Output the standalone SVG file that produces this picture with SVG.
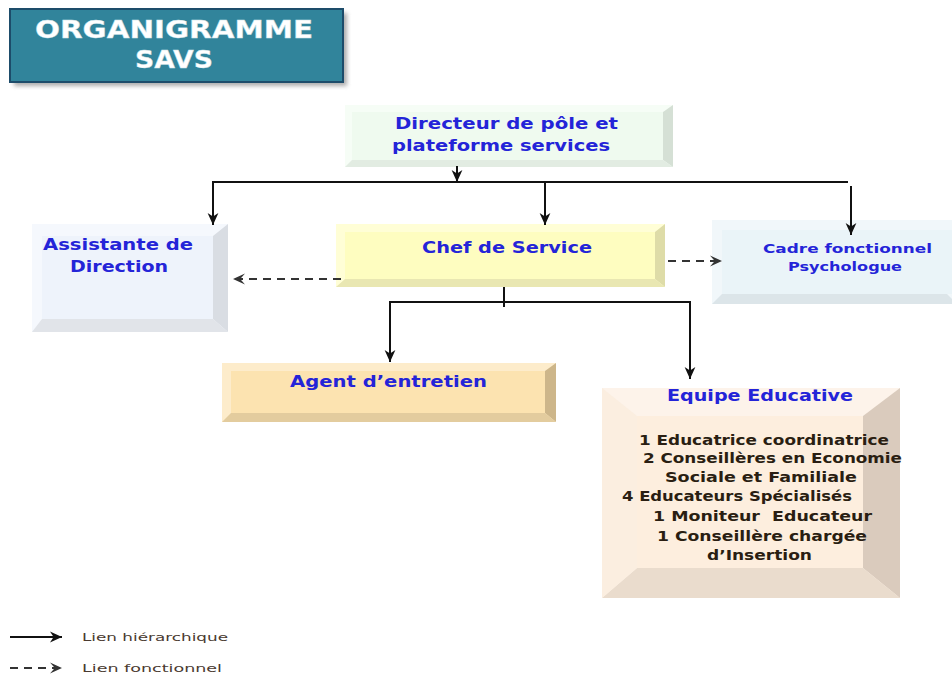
<svg xmlns="http://www.w3.org/2000/svg" width="952" height="675" viewBox="0 0 952 675">
<style>
.b{font-family:"DejaVu Sans","Verdana",sans-serif;font-weight:bold;font-size:16px;fill:#2424d8;text-anchor:middle}
.s{font-size:13px}
.e{font-family:"DejaVu Sans","Verdana",sans-serif;font-weight:bold;font-size:13.5px;fill:#2a1e12;text-anchor:middle}
.t{font-family:"DejaVu Sans","Verdana",sans-serif;font-weight:bold;font-size:24px;fill:#ffffff;text-anchor:middle;stroke:#cfe3ea;stroke-width:0.4}
.l{font-family:"DejaVu Sans","Verdana",sans-serif;font-size:10px;fill:#4a3a30}
.solid{fill:none;stroke:#111;stroke-width:2}
.dash{fill:none;stroke:#333;stroke-width:1.8;stroke-dasharray:8 6}
</style>
<defs>
<marker id="ah" viewBox="0 0 10 10" refX="10" refY="5" markerWidth="12" markerHeight="12" markerUnits="userSpaceOnUse" orient="auto">
<path d="M0,0.5 L10,5 L0,9.5 L3,5 z" fill="#111"/>
</marker>
<marker id="ad" viewBox="0 0 10 10" refX="10" refY="5" markerWidth="12" markerHeight="12" markerUnits="userSpaceOnUse" orient="auto">
<path d="M0,0.5 L10,5 L0,9.5 L4,5 z" fill="#333"/>
</marker>
<filter id="sh" x="-10%" y="-20%" width="130%" height="150%">
<feGaussianBlur stdDeviation="2"/>
</filter>
</defs>
<rect width="952" height="675" fill="#ffffff"/>

<g id="title">
<rect x="14" y="13" width="333" height="73" fill="#777" opacity="0.6" filter="url(#sh)"/>
<rect x="10" y="9" width="333" height="73" fill="#31849b" stroke="#1d4c6a" stroke-width="2"/>
<text class="t" x="174" y="38" textLength="278" lengthAdjust="spacingAndGlyphs">ORGANIGRAMME</text>
<text class="t" x="174" y="68" textLength="78" lengthAdjust="spacingAndGlyphs">SAVS</text>
</g>

<g id="directeur">
<rect x="345" y="105" width="328" height="62" fill="#f6fdf6"/>
<polygon points="673,105 673,167 663,160 663,112" fill="#d5e0d5"/>
<polygon points="345,167 673,167 663,160 352,160" fill="#e2ece2"/>
<rect x="352" y="112" width="311" height="48" fill="#effaef"/>
<text class="b" x="506.5" y="129" textLength="223" lengthAdjust="spacingAndGlyphs">Directeur de pôle et</text>
<text class="b" x="501" y="151" textLength="218" lengthAdjust="spacingAndGlyphs">plateforme services</text>
</g>

<g id="assistante">
<rect x="32" y="224" width="196" height="108" fill="#f5f8fd"/>
<polygon points="228,224 228,332 213,319 213,236" fill="#d9dde3"/>
<polygon points="32,332 228,332 213,319 42,319" fill="#e1e4e9"/>
<rect x="42" y="236" width="171" height="83" fill="#eef3fb"/>
<text class="b" x="118" y="250" textLength="150" lengthAdjust="spacingAndGlyphs">Assistante de</text>
<text class="b" x="119" y="272" textLength="98" lengthAdjust="spacingAndGlyphs">Direction</text>
</g>

<g id="chef">
<rect x="336" y="224" width="329" height="63" fill="#fffed6"/>
<polygon points="665,224 665,287 655,279 655,232" fill="#dedca8"/>
<polygon points="336,287 665,287 655,279 345,279" fill="#e9e7b2"/>
<rect x="345" y="232" width="310" height="47" fill="#fefdc0"/>
<text class="b" x="507" y="253" textLength="170" lengthAdjust="spacingAndGlyphs">Chef de Service</text>
</g>

<g id="cadre">
<rect x="712" y="220" width="245" height="84" fill="#f1f7fa"/>
<polygon points="712,304 957,304 947,294 722,294" fill="#dce5e9"/>
<rect x="722" y="230" width="235" height="64" fill="#eaf4f8"/>
<text class="b s" x="847.5" y="253" textLength="169" lengthAdjust="spacingAndGlyphs">Cadre fonctionnel</text>
<text class="b s" x="845" y="271" textLength="114" lengthAdjust="spacingAndGlyphs">Psychologue</text>
</g>

<g id="agent">
<rect x="222" y="363" width="334" height="59" fill="#fdeccb"/>
<polygon points="556,363 556,422 545,413 545,371" fill="#cdb68a"/>
<polygon points="222,422 556,422 545,413 231,413" fill="#e3cc9e"/>
<rect x="231" y="371" width="314" height="42" fill="#fce3b0"/>
<text class="b" x="388.5" y="387" textLength="197" lengthAdjust="spacingAndGlyphs">Agent d’entretien</text>
</g>

<g id="equipe">
<rect x="602" y="388" width="298" height="210" fill="#fdf3ea"/>
<polygon points="900,388 900,598 863,568 863,416" fill="#dacbbd"/>
<polygon points="602,598 900,598 863,568 637,568" fill="#eadccd"/>
<polygon points="602,388 637,416 637,568 602,598" fill="#fbeee0"/>
<rect x="637" y="416" width="226" height="152" fill="#fdeede"/>
<text class="b" x="760" y="401" textLength="186" lengthAdjust="spacingAndGlyphs">Equipe Educative</text>
<text class="e" x="764" y="445" textLength="250" lengthAdjust="spacingAndGlyphs">1 Educatrice coordinatrice</text>
<text class="e" x="772.5" y="463" textLength="259" lengthAdjust="spacingAndGlyphs">2 Conseillères en Economie</text>
<text class="e" x="761" y="482" textLength="192" lengthAdjust="spacingAndGlyphs">Sociale et Familiale</text>
<text class="e" x="737" y="501" textLength="230" lengthAdjust="spacingAndGlyphs">4 Educateurs Spécialisés</text>
<text class="e" x="762.5" y="521" textLength="219" lengthAdjust="spacingAndGlyphs" xml:space="preserve">1 Moniteur  Educateur</text>
<text class="e" x="762" y="541" textLength="210" lengthAdjust="spacingAndGlyphs">1 Conseillère chargée</text>
<text class="e" x="759.5" y="560" textLength="105" lengthAdjust="spacingAndGlyphs">d’Insertion</text>
</g>

<g id="connectors">
<path class="solid" d="M457,166 V182" marker-end="url(#ah)"/>
<path class="solid" d="M212,182 H848"/>
<path class="solid" d="M213,182 V225" marker-end="url(#ah)"/>
<path class="solid" d="M545,182 V225" marker-end="url(#ah)"/>
<path class="solid" d="M851,186 V235" marker-end="url(#ah)"/>
<path class="solid" d="M504,287 V307"/>
<path class="solid" d="M389,302 H691"/>
<path class="solid" d="M390,302 V362" marker-end="url(#ah)"/>
<path class="solid" d="M690,302 V379" marker-end="url(#ah)"/>
<path class="dash" d="M341,279 H233" marker-end="url(#ad)"/>
<path class="dash" d="M668,261 H722" marker-end="url(#ad)"/>
</g>

<g id="legend">
<path class="solid" d="M10,637 H62" stroke-width="1.6" marker-end="url(#ah)"/>
<path class="dash" d="M10,668 H62" marker-end="url(#ad)"/>
<text class="l" x="82" y="641" textLength="146" lengthAdjust="spacingAndGlyphs">Lien hiérarchique</text>
<text class="l" x="82" y="672" textLength="140" lengthAdjust="spacingAndGlyphs">Lien fonctionnel</text>
</g>
</svg>
